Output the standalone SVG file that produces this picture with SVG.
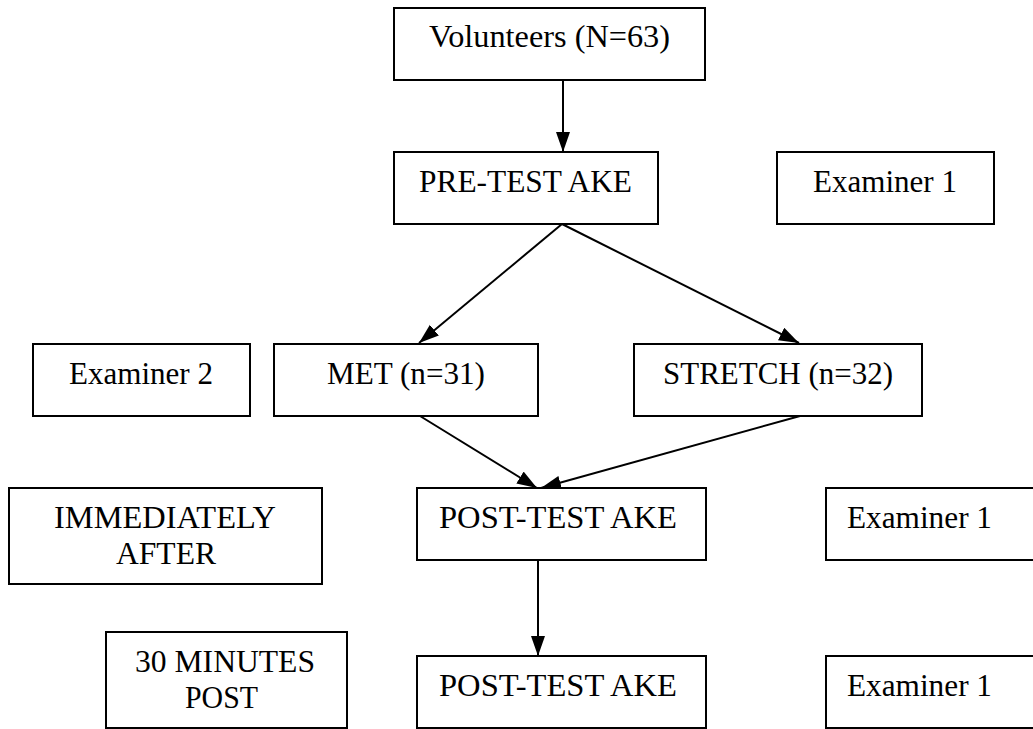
<svg xmlns="http://www.w3.org/2000/svg" width="1033" height="729" viewBox="0 0 1033 729">
<style>
.box{fill:#fff;stroke:#000;stroke-width:2}
.t{font-family:"Liberation Serif","Nimbus Roman","Times New Roman",Tinos,"DejaVu Serif",serif;font-size:31px;fill:#000}
.c{text-anchor:middle}
.con{stroke:#000;stroke-width:2;fill:none}
</style>
<defs>
<marker id="ah" markerUnits="userSpaceOnUse" markerWidth="21" markerHeight="15" refX="20" refY="7" orient="auto">
<path d="M0,0 L20,7 L0,14 z" fill="#000"/>
</marker>
</defs>
<rect width="1033" height="729" fill="#fff"/>
<g id="connectors">
<line class="con" x1="563" y1="80" x2="563" y2="152" marker-end="url(#ah)"/>
<line class="con" x1="562" y1="224" x2="419" y2="343" marker-end="url(#ah)"/>
<line class="con" x1="562" y1="224" x2="799" y2="343" marker-end="url(#ah)"/>
<line class="con" x1="420" y1="416" x2="537" y2="488" marker-end="url(#ah)"/>
<line class="con" x1="800" y1="416" x2="541" y2="488" marker-end="url(#ah)"/>
<line class="con" x1="538" y1="560" x2="538" y2="656" marker-end="url(#ah)"/>
</g>
<g id="volunteers"><rect class="box" x="394" y="8" width="311" height="72"/><text class="t" x="429" y="47" textLength="241" lengthAdjust="spacingAndGlyphs">Volunteers (N=63)</text></g>
<g id="pretest"><rect class="box" x="394" y="152" width="264" height="72"/><text class="t" x="419" y="192" textLength="213" lengthAdjust="spacingAndGlyphs">PRE-TEST AKE</text></g>
<g id="examiner1a"><rect class="box" x="777" y="152" width="217" height="72"/><text class="t" x="813" y="192" textLength="144" lengthAdjust="spacingAndGlyphs">Examiner 1</text></g>
<g id="examiner2"><rect class="box" x="33" y="344" width="217" height="72"/><text class="t" x="69" y="384" textLength="144" lengthAdjust="spacingAndGlyphs">Examiner 2</text></g>
<g id="met"><rect class="box" x="274" y="344" width="264" height="72"/><text class="t" x="327" y="384" textLength="158" lengthAdjust="spacingAndGlyphs">MET (n=31)</text></g>
<g id="stretch"><rect class="box" x="634" y="344" width="288" height="72"/><text class="t" x="663" y="384" textLength="230" lengthAdjust="spacingAndGlyphs">STRETCH (n=32)</text></g>
<g id="immediately"><rect class="box" x="9" y="488" width="313" height="96"/><text class="t" x="54" y="528" textLength="222" lengthAdjust="spacingAndGlyphs">IMMEDIATELY</text><text class="t" x="116" y="564" textLength="100" lengthAdjust="spacingAndGlyphs">AFTER</text></g>
<g id="posttest1"><rect class="box" x="417" y="488" width="289" height="72"/><text class="t" x="439" y="528" textLength="238" lengthAdjust="spacingAndGlyphs">POST-TEST AKE</text></g>
<g id="examiner1b"><rect class="box" x="826" y="488" width="220" height="72"/><text class="t" x="847" y="528" textLength="145" lengthAdjust="spacingAndGlyphs">Examiner 1</text></g>
<g id="thirty"><rect class="box" x="106" y="632" width="241" height="96"/><text class="t" x="135" y="672" textLength="180" lengthAdjust="spacingAndGlyphs">30 MINUTES</text><text class="t" x="185" y="708" textLength="73" lengthAdjust="spacingAndGlyphs">POST</text></g>
<g id="posttest2"><rect class="box" x="417" y="656" width="289" height="72"/><text class="t" x="439" y="696" textLength="238" lengthAdjust="spacingAndGlyphs">POST-TEST AKE</text></g>
<g id="examiner1c"><rect class="box" x="826" y="656" width="220" height="72"/><text class="t" x="847" y="696" textLength="145" lengthAdjust="spacingAndGlyphs">Examiner 1</text></g>
</svg>
